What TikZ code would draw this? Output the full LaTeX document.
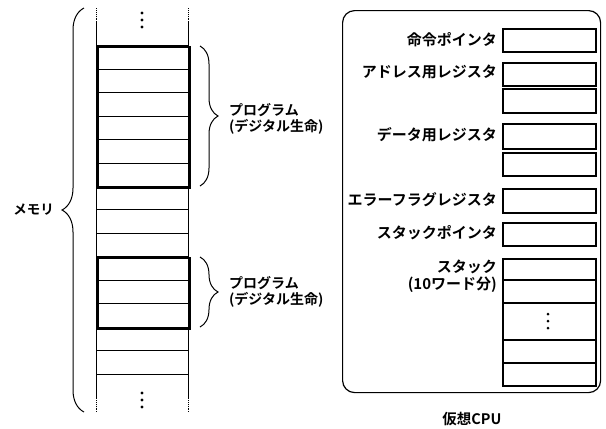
\documentclass[tikz,border=0pt]{standalone}
\usepackage{fontspec}
\setmainfont{Noto Sans CJK JP}[BoldFont={Noto Sans CJK JP Bold}]
\usetikzlibrary{decorations.pathreplacing}
\begin{document}
\begin{tikzpicture}[x=1pt,y=-1pt,
  thinrow/.style={draw, line width=0.8pt},
  progbox/.style={draw, line width=2.6pt},
  reg/.style={draw, line width=1.8pt, minimum width=93pt, inner sep=0pt, anchor=north west},
  lab/.style={font=\bfseries\fontsize{15}{16.5}\selectfont, anchor=east, inner sep=0pt, align=right},
  mlab/.style={font=\bfseries\fontsize{14}{15.5}\selectfont, anchor=west, inner sep=0pt, align=left},
  bracedec/.style={decorate, decoration={brace, amplitude=#1}, line width=1pt},
  dotc/.style={fill=black}]
\useasboundingbox (0,0) rectangle (606,429);

% ---- memory column ----
\draw[line width=0.9pt] (96,22) -- (96,398) (188,22) -- (188,398);
\draw[line width=0.9pt, densely dotted] (96,8) -- (96,22) (188,8) -- (188,22)
  (96,398) -- (96,412) (188,398) -- (188,412);
\foreach \k in {0,...,14}{
  \draw[thinrow] (96,{45.7+23.45*\k}) -- (188,{45.7+23.45*\k});
}
\node[progbox, minimum width=92pt, minimum height=140.7pt, inner sep=0pt, anchor=north west] (prog1) at (96,45.7) {};
\node[progbox, minimum width=92pt, minimum height=70.3pt, inner sep=0pt, anchor=north west] (prog2) at (96,256.8) {};
\foreach \y in {13,20,27}{ \fill[dotc] (142,\y) circle (1.6); }
\foreach \y in {393,400,407}{ \fill[dotc] (142,\y) circle (1.6); }

% braces
\coordinate (mb1) at (84,412); \coordinate (mb2) at (84,8);
\draw[bracedec=22] (mb1) -- (mb2);
\node[font=\bfseries\fontsize{13.5}{15}\selectfont, anchor=east, inner sep=0pt] (mem) at (54,210) {メモリ};

\coordinate (pb1a) at (200,46); \coordinate (pb1b) at (200,186);
\draw[bracedec=18] (pb1a) -- (pb1b);
\node[mlab] (pl1) at (229,119) {プログラム\\(デジタル生命)};

\coordinate (pb2a) at (200,257); \coordinate (pb2b) at (200,327);
\draw[bracedec=18] (pb2a) -- (pb2b);
\node[mlab] (pl2) at (229,292) {プログラム\\(デジタル生命)};

% ---- virtual CPU ----
\node[draw, line width=1.2pt, rounded corners=12pt, minimum width=258pt, minimum height=382pt, inner sep=0pt, anchor=north west] (cpu) at (342,10) {};
\node[font=\bfseries\fontsize{14.5}{16}\selectfont, inner sep=0pt] (cpulab) at (472,419) {仮想CPU};

\node[reg, minimum height=23pt] (ip) at (502,28) {};
\node[lab] (ipl) at (497,40) {命令ポインタ};

\node[reg, minimum height=23pt] (ad1) at (502,62) {};
\node[reg, minimum height=24pt] (ad2) at (502,88) {};
\node[lab] (adl) at (497,72) {アドレス用レジスタ};

\node[reg, minimum height=25pt] (dt1) at (502,123) {};
\node[reg, minimum height=23pt] (dt2) at (502,152) {};
\node[lab] (dtl) at (497,135) {データ用レジスタ};

\node[reg, minimum height=24pt] (er) at (502,188) {};
\node[lab] (erl) at (497,200) {エラーフラグレジスタ};

\node[reg, minimum height=23pt] (sp) at (502,222) {};
\node[lab] (spl) at (497,233) {スタックポインタ};

\node[reg, minimum height=127pt] (st) at (502,258) {};
\foreach \y in {280,303,340,363}{ \draw[line width=1.8pt] (502,\y) -- (595,\y); }
\foreach \y in {314,321,328}{ \fill[dotc] (548,\y) circle (1.5); }
\node[lab] (stl) at (497,276) {スタック\\(10ワード分)};
\end{tikzpicture}
\end{document}
